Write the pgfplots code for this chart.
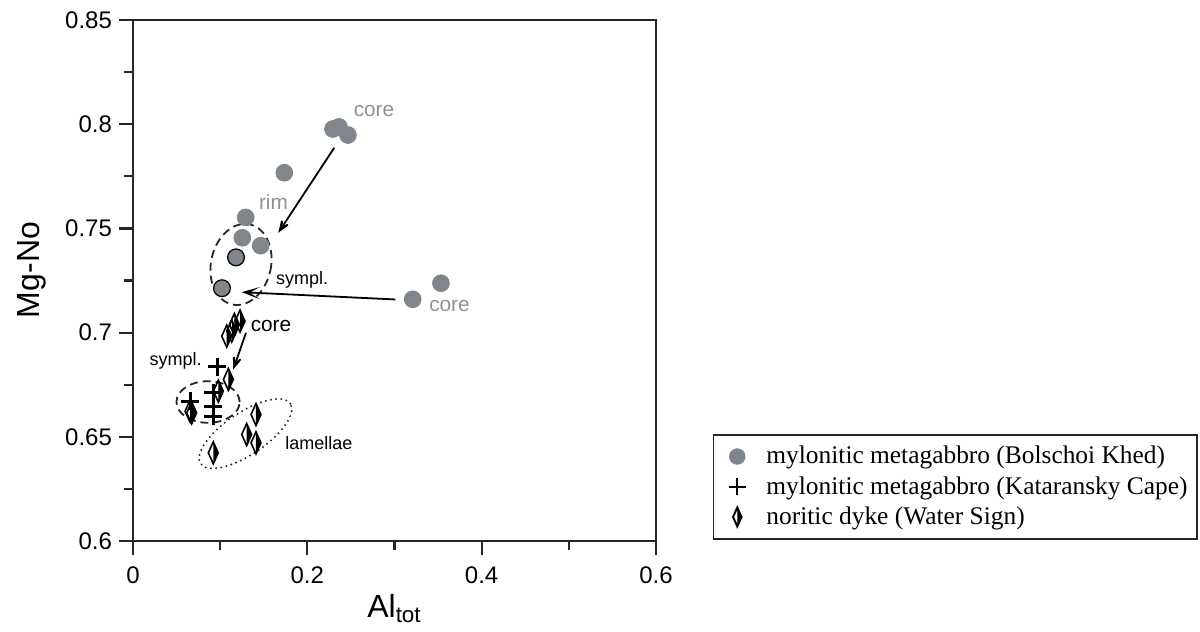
\documentclass[border=0pt]{standalone}
\usepackage{fontspec}
\setmainfont{Liberation Sans}
\newfontfamily\legfont{Liberation Serif}
\usepackage{pgfplots}
\pgfplotsset{compat=1.18}
\usetikzlibrary{arrows.meta,shapes.geometric}
\definecolor{ptgray}{RGB}{128,134,139}
\definecolor{txtgray}{RGB}{140,146,150}

\pgfdeclareplotmark{halfdiamond}{%
 \pgfpathmoveto{\pgfqpoint{0pt}{\pgfplotmarksize}}%
 \pgfpathlineto{\pgfqpoint{0.45\pgfplotmarksize}{0pt}}%
 \pgfpathlineto{\pgfqpoint{0pt}{-\pgfplotmarksize}}%
 \pgfpathclose
 \pgfusepathqfill
 \pgfpathmoveto{\pgfqpoint{0pt}{\pgfplotmarksize}}%
 \pgfpathlineto{\pgfqpoint{0.45\pgfplotmarksize}{0pt}}%
 \pgfpathlineto{\pgfqpoint{0pt}{-\pgfplotmarksize}}%
 \pgfpathlineto{\pgfqpoint{-0.45\pgfplotmarksize}{0pt}}%
 \pgfpathclose
 \pgfusepathqstroke
}

\begin{document}
\begin{tikzpicture}
\useasboundingbox (-66.5pt,-45.5pt) rectangle (533.5pt,270.5pt);
\begin{axis}[
 at={(0pt,0pt)}, anchor=south west,
 scale only axis, width=261.5pt, height=260.5pt,
 clip=false,
 xmin=0, xmax=0.6, ymin=0.6, ymax=0.85,
 axis line style={line width=1.1pt, black!85},
 xtick={0,0.2,0.4,0.6}, minor xtick={0.1,0.3,0.5},
 ytick={0.6,0.65,0.7,0.75,0.8,0.85}, minor ytick={0.625,0.675,0.725,0.775,0.825},
 xtick pos=bottom, ytick pos=left,
 tick align=outside,
 major tick length=7pt, minor tick length=4.7pt,
 every tick/.style={line width=1.1pt, black!85},
 ticklabel style={font=\fontsize{12}{14}\selectfont},
 /pgf/number format/assume math mode=true,
 xticklabel style={yshift=-2.5pt},
 xlabel={Al\textsubscript{tot}},
 xlabel style={font=\fontsize{16}{18}\selectfont, at={(axis description cs:0.5,-0.146)}, anchor=base},
 ylabel={Mg-No},
 ylabel style={font=\fontsize{16}{18}\selectfont, at={(axis description cs:-0.193,0.52)}, anchor=center},
 legend image code/.code={\draw[#1] plot coordinates {(0pt,0pt)}; \path (-8pt,0pt) (8pt,0pt);},
 legend style={draw=none, fill=none, at={(axis description cs:1.1233,0.1904)}, anchor=north west,
   font=\legfont\fontsize{12.7}{15}\selectfont, inner sep=0pt, column sep=4.4pt, row sep=0.8pt},
 legend cell align=left,
]
% legend images
\addlegendimage{mark=*, mark size=3.9pt, ptgray, mark options={draw=ptgray, fill=ptgray}}
\addlegendentry{mylonitic metagabbro (Bolschoi Khed)}
\addlegendimage{mark=+, mark size=4.2pt, black, mark options={line width=1pt}}
\addlegendentry{mylonitic metagabbro (Kataransky Cape)}
\addlegendimage{mark=halfdiamond, mark size=4.7pt, black, mark options={fill=black, line width=1pt}}
\addlegendentry{noritic dyke (Water Sign)}

% Bolschoi Khed
\addplot[only marks, mark=*, mark size=4.2pt, mark options={fill=ptgray, draw=ptgray}, forget plot] coordinates {
 (0.2294,0.7977) (0.2363,0.7987) (0.2466,0.7948) (0.1736,0.7767) (0.1293,0.7553)
 (0.1254,0.7455) (0.1465,0.7417) (0.3209,0.7160) (0.3533,0.7237)};
\addplot[only marks, mark=*, mark size=4.2pt, mark options={fill=ptgray, draw=black, line width=0.6pt}, forget plot] coordinates {
 (0.1182,0.7361) (0.1021,0.7213)};
% Kataransky Cape
\addplot[only marks, mark=+, mark size=4.5pt, mark options={line width=1.5pt, black}, forget plot] coordinates {
 (0.0964,0.6835) (0.0654,0.6671) (0.0921,0.6711) (0.0921,0.6647) (0.0921,0.6599)};
% noritic dyke
\addplot[only marks, mark=halfdiamond, mark size=5.5pt, mark options={fill=black, draw=black, line width=0.8pt}, forget plot] coordinates {
 (0.1228,0.7055) (0.1163,0.7039) (0.1133,0.7007) (0.1075,0.6983)
 (0.1094,0.6775) (0.0979,0.6719) (0.0654,0.6623) (0.0673,0.6615)
 (0.1411,0.6607) (0.1304,0.6511) (0.1411,0.6471) (0.0921,0.6423)};

% ellipses
\node[ellipse, draw=black!85, line width=0.9pt, dash pattern=on 4pt off 2.5pt, minimum width=30pt, minimum height=41pt, inner sep=0pt, rotate=-12.5] at (axis cs:0.1239,0.7327) {};
\node[ellipse, draw=black!85, line width=0.9pt, dash pattern=on 4pt off 2.5pt, minimum width=31.6pt, minimum height=20.8pt, inner sep=0pt] at (axis cs:0.0861,0.6667) {};
\node[ellipse, draw=black!85, line width=1.1pt, line cap=round, dash pattern=on 0pt off 2.6pt, minimum width=54pt, minimum height=21pt, inner sep=0pt, rotate=33.8] at (axis cs:0.1290,0.6515) {};

% arrows
\draw[line width=0.9pt, -{Stealth[length=10pt,width=7.5pt,inset=6pt]}] (axis cs:0.2309,0.7887) -- (axis cs:0.1667,0.7479);
\draw[line width=0.9pt, -{Stealth[open,length=9pt,width=6pt,inset=5pt]}] (axis cs:0.3009,0.7159) -- (axis cs:0.1247,0.7194);
\draw[line width=0.9pt, -{Stealth[length=10pt,width=7.5pt,inset=6pt]}] (axis cs:0.1296,0.6999) -- (axis cs:0.1150,0.6823);

% texts
\node[txtgray, font=\fontsize{10.4}{12}\selectfont] at (axis cs:0.2765,0.8061) {core};
\node[txtgray, font=\fontsize{10.4}{12}\selectfont] at (axis cs:0.1612,0.7629) {rim};
\node[txtgray, font=\fontsize{10.4}{12}\selectfont] at (axis cs:0.3631,0.7130) {core};
\node[font=\fontsize{9}{11}\selectfont] at (axis cs:0.1940,0.7255) {sympl.};
\node[font=\fontsize{10.4}{12}\selectfont] at (axis cs:0.1583,0.7034) {core};
\node[font=\fontsize{9}{11}\selectfont] at (axis cs:0.0488,0.6866) {sympl.};
\node[font=\fontsize{9}{11}\selectfont] at (axis cs:0.2134,0.6468) {lamellae};

% legend box
\draw[line width=0.8pt, black!85] (axis description cs:1.1096,0.0033) rectangle (axis description cs:2.034,0.2035);
\end{axis}
\end{tikzpicture}
\end{document}
